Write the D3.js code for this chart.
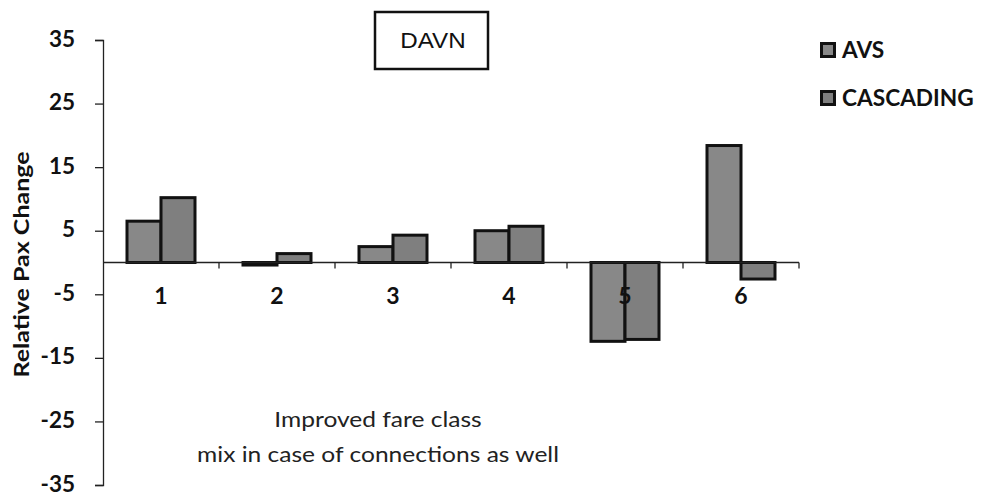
<!DOCTYPE html>
<html>
<head>
<meta charset="utf-8">
<script src="https://cdn.jsdelivr.net/npm/d3@7"></script>
<style>
  html, body { margin: 0; padding: 0; background: #fff; }
  svg { display: block; }
</style>
</head>
<body>
<svg id="chart" width="982" height="496"></svg>
<script>
// Scenario categories along the x axis
const categories = ["1", "2", "3", "4", "5", "6"];
// Series names (legend order)
const seriesNames = ["AVS", "CASCADING"];
// Relative passenger change per scenario
const avsValues = [6.5, -0.4, 2.5, 5.0, -12.4, 18.4];
const cascadingValues = [10.2, 1.4, 4.3, 5.7, -12.1, -2.6];
// Y axis tick values
const yTicks = [35, 25, 15, 5, -5, -15, -25, -35];

const seriesValues = [avsValues, cascadingValues];
const seriesFill = ["#888888", "#7f7f7f"];

const svg = d3.select("#chart");
const labelFont = "Lato, 'Open Sans', sans-serif";

// Widen a text element horizontally about its anchor point
function widen(sel, sx) {
  sel.each(function () {
    const t = d3.select(this);
    const x = +t.attr("x") || 0, y = +t.attr("y") || 0;
    const prev = t.attr("transform") || "";
    t.attr("x", 0).attr("y", 0).attr("transform", `${prev} translate(${x},${y}) scale(${sx},1)`);
  });
}

const x0 = d3.scaleBand().domain(categories).range([103, 799]);
const x1 = d3.scaleBand().domain(seriesNames).range([0, x0.bandwidth()]).paddingInner(0).paddingOuter(0.706);
const y = d3.scaleLinear().domain([-35, 35]).range([485, 40]);

// Bars
const rows = categories.map((c, i) => ({ cat: c, vals: seriesNames.map((s, j) => ({ s, v: seriesValues[j][i], j })) }));
const groups = svg.append("g").selectAll("g").data(rows).join("g")
  .attr("transform", d => `translate(${x0(d.cat)},0)`);
groups.selectAll("rect").data(d => d.vals).join("rect")
  .attr("x", d => x1(d.s))
  .attr("width", x1.bandwidth())
  .attr("y", d => y(Math.max(0, d.v)))
  .attr("height", d => Math.abs(y(d.v) - y(0)))
  .attr("fill", d => seriesFill[d.j])
  .attr("stroke", "#111")
  .attr("stroke-width", 3);

// Y axis
const yAxis = svg.append("g").attr("transform", "translate(103,0)")
  .call(d3.axisLeft(y).tickValues(yTicks).tickSize(8).tickPadding(20).tickFormat(d => String(d)));
yAxis.select(".domain").attr("stroke", "#222").attr("stroke-width", 1.3);
yAxis.selectAll(".tick line").attr("stroke", "#222").attr("stroke-width", 1.3);
yAxis.selectAll(".tick text")
  .attr("dy", "0.27em")
  .attr("font-family", labelFont).attr("font-weight", "bold").attr("font-size", 22.5).attr("fill", "#111");

// X axis along zero, with ticks between categories
const xAxisG = svg.append("g").attr("transform", `translate(0,${y(0)})`);
xAxisG.append("line").attr("x1", 103).attr("x2", 799).attr("stroke", "#222").attr("stroke-width", 1.3);
const boundaries = categories.map(c => x0(c) + x0.bandwidth());
xAxisG.selectAll("line.tk").data(boundaries).join("line").attr("class", "tk")
  .attr("x1", d => d).attr("x2", d => d).attr("y1", 0).attr("y2", 6)
  .attr("stroke", "#222").attr("stroke-width", 1.3);
xAxisG.selectAll("text").data(categories).join("text")
  .attr("x", d => x0(d) + x0.bandwidth() / 2)
  .attr("y", 41)
  .attr("text-anchor", "middle")
  .attr("font-family", labelFont).attr("font-weight", "bold").attr("font-size", 23).attr("fill", "#111")
  .text(d => d);

// Y axis title
svg.append("text")
  .attr("transform", `translate(29,${y(0) + 2}) rotate(-90)`)
  .attr("text-anchor", "middle")
  .attr("font-family", labelFont).attr("font-weight", "bold").attr("font-size", 21).attr("fill", "#111")
  .attr("textLength", 226).attr("lengthAdjust", "spacingAndGlyphs")
  .text("Relative Pax Change");

// Title box
svg.append("rect").attr("x", 375).attr("y", 12).attr("width", 113).attr("height", 57)
  .attr("fill", "#fff").attr("stroke", "#111").attr("stroke-width", 2.5);
const title = svg.append("text").attr("x", 433).attr("y", 48).attr("text-anchor", "middle")
  .attr("font-family", "'Liberation Sans', Arial, sans-serif").attr("font-size", 22).attr("fill", "#111")
  .text("DAVN");
widen(title, 1.1);

// Legend
const legend = svg.append("g").selectAll("g").data(seriesNames).join("g")
  .attr("transform", (d, i) => `translate(820,${50 + i * 48})`);
legend.append("rect").attr("x", 1.5).attr("y", -6.5).attr("width", 13).attr("height", 13)
  .attr("fill", (d, i) => seriesFill[i]).attr("stroke", "#111").attr("stroke-width", 3);
const legText = legend.append("text").attr("x", 22).attr("y", 8)
  .attr("font-family", labelFont).attr("font-weight", "bold").attr("font-size", 22).attr("fill", "#111")
  .text(d => d);
widen(legText, 1.03);

// Annotation
const note1 = svg.append("text").attr("text-anchor", "middle").attr("x", 378).attr("y", 427)
  .attr("font-family", labelFont).attr("font-size", 21).attr("fill", "#222")
  .text("Improved fare class");
const note2 = svg.append("text").attr("text-anchor", "middle").attr("x", 378).attr("y", 462)
  .attr("font-family", labelFont).attr("font-size", 21).attr("fill", "#222")
  .text("mix in case of connections as well");
widen(note1, 1.17);
widen(note2, 1.17);
</script>
</body>
</html>
